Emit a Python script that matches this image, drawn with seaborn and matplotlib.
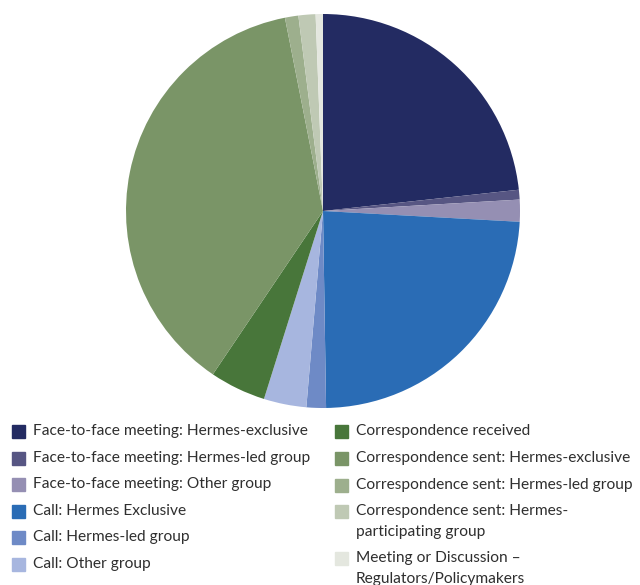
import matplotlib
matplotlib.use("Agg")
import matplotlib.pyplot as plt
from matplotlib.patches import Rectangle
import seaborn as sns

# Engagement breakdown by type (% of total)
categories = [
    "Face-to-face meeting: Hermes-exclusive",
    "Face-to-face meeting: Hermes-led group",
    "Face-to-face meeting: Other group",
    "Call: Hermes Exclusive",
    "Call: Hermes-led group",
    "Call: Other group",
    "Correspondence received",
    "Correspondence sent: Hermes-exclusive",
    "Correspondence sent: Hermes-led group",
    "Correspondence sent: Hermes-\nparticipating group",
    "Meeting or Discussion –\nRegulators/Policymakers",
]
shares = [23.3, 0.8, 1.8, 23.9, 1.6, 3.5, 4.6, 37.5, 1.1, 1.4, 0.6]
colors = [
    "#232B62", "#575683", "#958FB3",
    "#2A6CB5", "#6E8AC6", "#A7B6DF",
    "#48763A", "#7A9567", "#9DAF8D", "#BFC9B4", "#E4E7DF",
]

sns.set_theme(style="white")
plt.rcParams["font.family"] = ["Lato", "DejaVu Sans"]

W, H = 640, 585
fig = plt.figure(figsize=(W / 100, H / 100), dpi=100)

# Pie axes: centre (323, 211) px, radius 197 px
cx, cy, r = 323, 211, 197
ax = fig.add_axes([(cx - r) / W, (H - cy - r) / H, 2 * r / W, 2 * r / H])
ax.pie(shares, colors=colors, startangle=90, counterclock=False,
       wedgeprops=dict(linewidth=0))
ax.set_aspect("equal")
ax.set_xlim(-1, 1)
ax.set_ylim(-1, 1)
ax.axis("off")

# Legend drawn in two columns below the pie
text_color = "#2f2f2f"
fs = 11.2
sq = 13
col_x = [12, 335]
rows = [
    [431, 458, 484, 511, 537, 564],
    [431, 458, 485, 511, 558],
]
idx = 0
for c, ys in enumerate(rows):
    for y in ys:
        label = categories[idx]
        fig.patches.append(Rectangle(((col_x[c]) / W, (H - y - sq / 2) / H),
                                     sq / W, sq / H, color=colors[idx],
                                     transform=fig.transFigure, figure=fig))
        for k, line in enumerate(label.split("\n")):
            fig.text((col_x[c] + 21) / W, (H - y - 21 * k) / H, line,
                     fontsize=fs, color=text_color, va="center", ha="left")
        idx += 1

fig.savefig("out.png", dpi=100, facecolor="white")
